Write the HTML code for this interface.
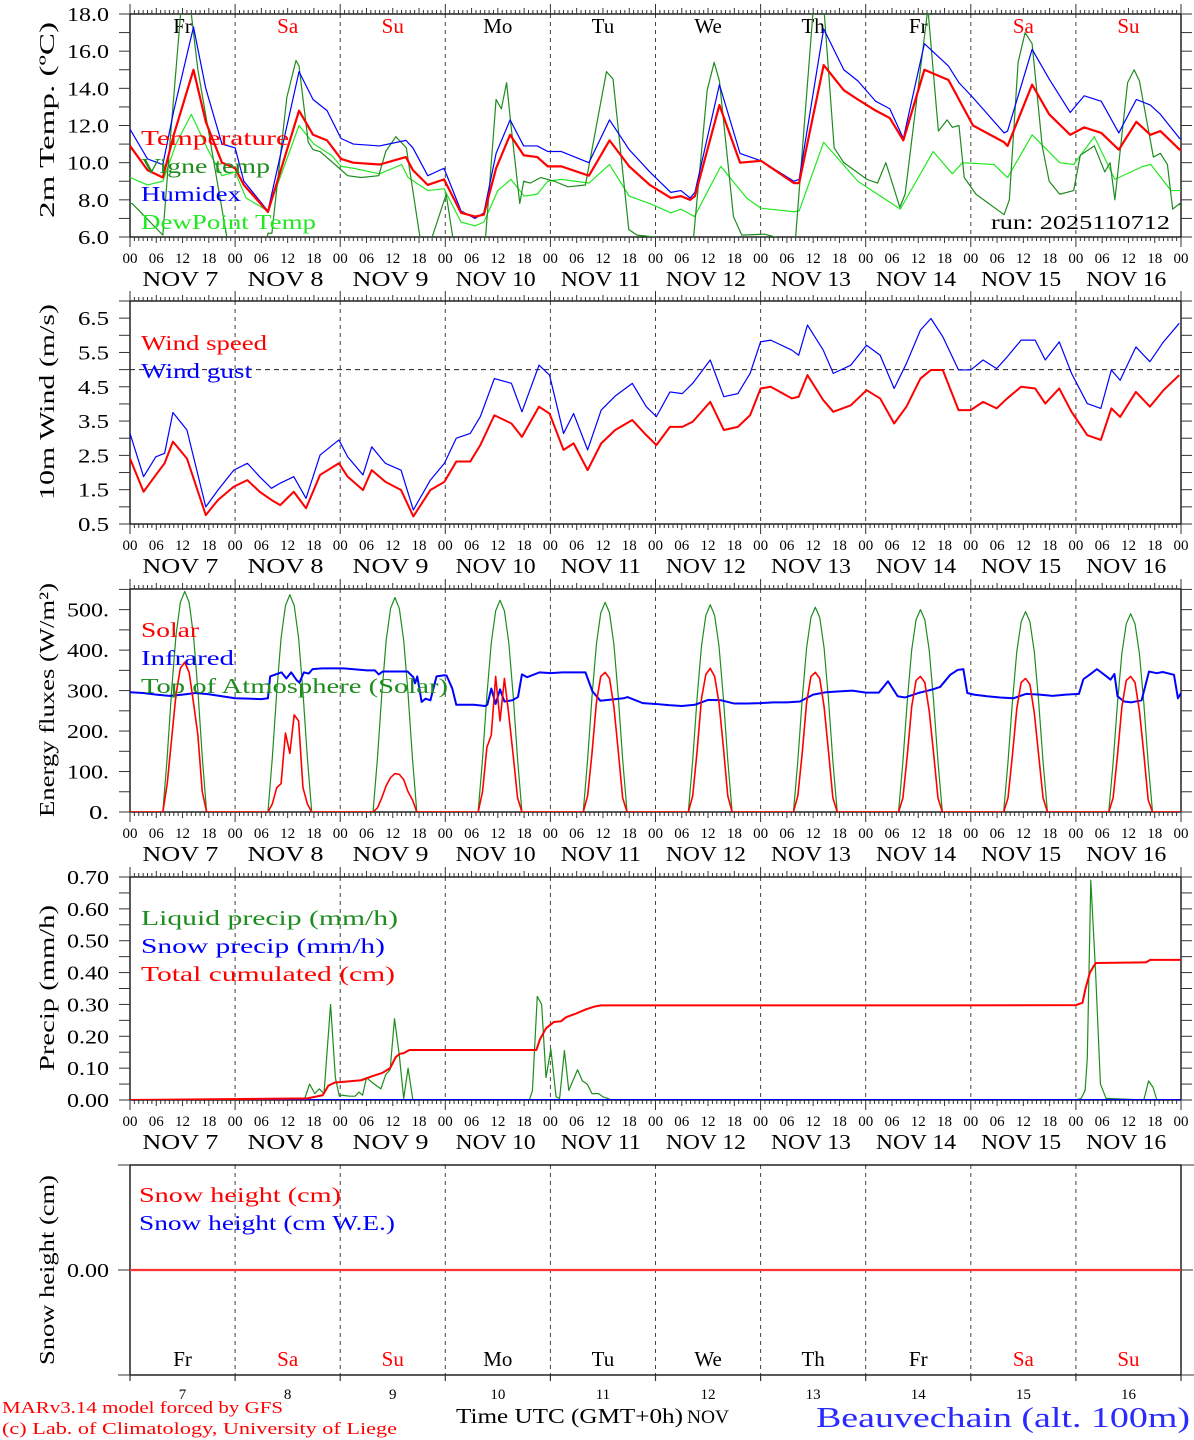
<!DOCTYPE html>
<html><head><meta charset="utf-8"><title>MAR forecast Beauvechain</title>
<style>html,body{margin:0;padding:0;background:#fff;}svg{display:block;}text{font-family:"Liberation Serif","DejaVu Serif",serif;}</style>
</head><body>
<svg id="chart" xmlns="http://www.w3.org/2000/svg" width="1194" height="1440" viewBox="0 0 1194 1440">
<rect x="0" y="0" width="1194" height="1440" fill="#fff"/>
</svg>
<script>
// ---------- data ----------
const dayNames = ["Fr","Sa","Su","Mo","Tu","We","Th","Fr","Sa","Su"];
const dayNums = ["7","8","9","10","11","12","13","14","15","16"];
// Temperature panel (hours since Nov 7 00 UTC)
const tempHours = [0,4,7.5,10,14.5,17.3,21,24,26,31.5,38.6,41.8,45,48.2,51,57,63,64.6,68,71.7,75.6,78.8,80.8,83.6,86.8,89.9,93,95.4,98.5,104.8,109.5,114,118.7,123.5,125.8,127.9,129,134.6,139.3,144.1,151.6,152.8,158.4,163,166.2,170.3,173.5,176.6,181.4,186.9,189.3,192.5,199.6,200.4,206,209.9,214.7,217.9,221.8,225.8,229.8,233,235.3,239.7,240];
const tempValues = [10.9,9.6,9.2,11.5,15.0,12.2,10.0,9.7,8.8,7.35,12.8,11.5,11.2,10.2,10.0,9.9,10.3,9.6,8.8,9.1,7.3,7.1,7.2,9.7,11.5,10.4,10.3,9.8,9.8,9.3,11.2,9.8,8.8,8.1,8.2,8.0,8.2,13.1,10.0,10.1,8.9,8.9,15.25,13.9,13.4,12.8,12.4,11.2,15.0,14.45,13.4,12.0,11.1,10.9,14.2,12.6,11.5,11.9,11.6,10.7,12.2,11.5,11.7,10.7,10.7];
const humidexValues = [11.8,10.2,9.9,12.8,17.3,14.0,11.0,10.8,9.0,7.4,14.9,13.4,12.8,11.3,11.0,10.9,11.2,10.8,9.3,9.7,7.4,7.0,7.3,10.5,12.3,10.9,10.9,10.6,10.6,10.0,12.3,10.7,9.5,8.4,8.5,8.1,8.4,14.2,10.5,10.1,9.0,9.1,17.2,15.0,14.4,13.3,12.9,11.3,16.4,15.2,14.3,13.5,11.6,11.7,16.1,14.5,12.7,13.6,13.3,11.6,13.4,13.1,12.6,11.3,11.3];
const dewHours = [0,4,7.5,10.5,14,18,21,24,26.5,31.5,38.6,42,46,48.2,51,57,62,63.5,68,71.7,75.6,78.8,80.8,84,87,90,93,95.4,98.5,104.8,109.5,114,118.7,123.5,125.8,128.9,134.9,140.8,144.1,151.6,152.8,158.4,166.2,175.9,183.4,187.8,190.1,197.3,200.4,206,212.3,215.5,220.2,224.9,231.3,233.1,237.7,240];
const dewValues = [9.2,8.8,9.0,11.0,12.6,10.6,9.3,9.5,8.1,7.4,12.0,11.0,10.4,9.8,9.7,9.4,9.9,9.2,8.5,8.6,6.8,6.6,6.8,8.5,9.1,8.2,8.3,9.0,9.1,8.9,9.9,8.2,7.8,7.3,7.5,7.1,9.8,8.1,7.55,7.36,7.4,11.1,9.0,7.5,10.6,9.4,10.0,9.9,9.2,11.5,10.0,9.9,11.4,9.1,9.8,9.9,8.5,8.5];
const vigneHours = [0,0.5,7.5,9.1,11.9,13.9,15.5,22.1,23,30.5,31.5,32.4,35.8,37.9,38.6,40.7,41.8,43.4,47.3,49.7,52.8,56.8,58.4,60.7,63.1,66.2,67,68.5,69,72.2,73.7,74.5,80.5,81.2,83.6,84.8,86,87,89,89.9,91.4,93.8,96.9,100,104,108.8,110.3,113.9,115.8,119.7,121,128,128.7,131.8,133.4,134.6,137.8,139.7,144.9,147.3,151,152,156,158.4,160.8,163,168.3,170.7,172.6,175.8,177,182.2,184.6,186.6,187.8,189.3,190.5,193.2,199.6,200.8,202.8,204.4,206,208.3,209.9,212.3,215.5,217,220.2,222.6,223.8,224.9,227.8,229.3,230.5,233.7,235.3,236.9,238.1,239.7,240];
const vigneValues = [7.8,7.8,6.1,11,19,18.2,15,6.0,5.0,5.0,6.2,6.2,13.5,15.5,15.2,11.1,10.7,10.6,9.8,9.3,9.2,9.3,10.6,11.4,10.8,6.0,4.0,4.0,6.0,8.3,6.0,4.0,4.0,6.0,13.4,12.9,14.3,12.0,7.8,9.0,8.9,9.2,9.0,8.7,8.8,14.9,14.5,6.4,6.1,6.0,4.5,4.5,6.0,13.9,15.4,14.4,7.1,6.1,6.15,6.0,5.5,6.0,18.2,18.5,10.8,10.0,9.1,8.9,10.0,7.6,8.3,18.3,11.7,12.3,11.9,12.0,9.2,8.3,7.2,8.0,15.4,17.0,16.4,10.9,9.0,8.3,8.5,10.4,10.9,9.5,10.0,8.0,14.3,15.0,14.4,10.3,10.5,9.9,7.5,7.8,7.6];
// Wind panel
const windHours = [0,3.1,5.9,7.9,9.8,13,17.3,20.1,23.7,26.8,29.6,32.3,34.3,37.4,40.2,43.4,47.7,49.7,53.2,55.2,58.3,61.9,64.7,68.6,71.8,74.5,77.7,80,83.2,87.1,89.5,93.4,95.8,99,101.3,104.5,107.6,110.8,114.7,117.9,120.2,123.3,126.1,128.5,132.5,135.6,138.8,141.6,144,146.3,151.1,152.7,154.7,158.3,160.6,164.6,168.2,171.3,174.5,177.3,180.5,182.9,185.6,189.2,192,194.8,197.9,200.3,203.5,206.7,209,212.2,215,218.6,221.7,224.1,226.1,229.7,232.9,236,239.6];
const windSpeed = [2.41,1.44,1.93,2.27,2.9,2.41,0.76,1.2,1.59,1.78,1.44,1.2,1.05,1.44,0.96,1.93,2.27,1.88,1.49,2.07,1.73,1.49,0.72,1.49,1.73,2.32,2.32,2.8,3.67,3.43,3.04,3.92,3.72,2.66,2.85,2.07,2.85,3.24,3.53,3.09,2.8,3.33,3.33,3.48,4.06,3.24,3.33,3.67,4.45,4.5,4.16,4.21,4.84,4.11,3.77,3.96,4.4,4.16,3.43,3.92,4.74,4.99,4.99,3.82,3.82,4.06,3.87,4.16,4.5,4.45,4.01,4.45,3.77,3.09,2.95,3.87,3.62,4.35,3.92,4.4,4.84];
const windGust = [3.14,1.88,2.46,2.56,3.75,3.24,1.0,1.49,2.07,2.27,1.88,1.54,1.69,1.88,1.25,2.51,2.95,2.46,1.93,2.75,2.27,2.07,0.91,1.78,2.27,3.0,3.14,3.63,4.74,4.6,3.77,5.13,4.84,3.14,3.72,2.66,3.82,4.23,4.6,3.92,3.63,4.35,4.3,4.6,5.28,4.21,4.3,4.89,5.81,5.86,5.57,5.42,6.3,5.57,4.89,5.13,5.71,5.42,4.45,5.18,6.15,6.49,5.96,4.99,4.99,5.28,5.03,5.37,5.86,5.86,5.28,5.81,4.89,4.01,3.87,4.99,4.69,5.66,5.23,5.81,6.35];
const gustThreshold = [5.0];
// Energy panel: daylight hours 7.5..17.5 each day
const sunHours = [7.5,8.5,9.5,10.5,11.5,12.5,13.5,14.5,15.5,16.5,17.5];
const toaDaily = [
[0,136,300,436,518,545,518,436,300,136,0],
[0,134,295,430,510,537,510,430,295,134,0],
[0,132,291,424,503,530,503,424,291,132,0],
[0,131,288,418,497,523,497,418,288,131,0],
[0,130,285,414,492,518,492,414,285,130,0],
[0,128,282,410,486,512,486,410,282,128,0],
[0,126,278,405,481,506,481,405,278,126,0],
[0,125,275,400,475,500,475,400,275,125,0],
[0,124,272,396,470,495,470,396,272,124,0],
[0,122,270,392,465,490,465,392,270,122,0]];
const solarDaily = [
[0,70,180,290,355,370,345,270,190,50,0],
[0,20,60,70,195,145,240,225,60,20,0],
[0,10,35,65,85,95,93,80,50,30,0],
[0,50,160,190,335,225,330,240,140,35,0],
[0,40,145,270,335,345,330,260,150,35,0],
[0,40,150,280,340,355,335,270,160,40,0],
[0,40,145,270,335,345,330,260,150,35,0],
[0,35,140,260,325,335,320,250,145,35,0],
[0,35,140,255,320,330,315,245,140,35,0],
[0,35,140,260,325,335,320,250,145,30,0]];
const irHours = [0,3,6,9,12,15,18,21,24,27,30,31.5,32,34.6,35.7,36.8,38.1,38.7,39.7,40.8,41.7,43.9,48.8,54.1,55.9,56.8,57.7,63.4,64.7,65.1,65.6,66.6,67.5,68.6,70,71.8,72.3,73.6,74.5,78.5,81.1,81.6,82.5,83.5,84.5,85.5,87.3,88.6,89.5,90.7,93.5,96.1,98.7,104,105.6,107.4,112.7,113.6,117.1,120,123,126,129,132,135,138,141,144,147,150,153,156,159,162,165,168,171,173.1,175.3,177,180,183,185,187.3,189,190.3,191.2,192.7,195.7,198.7,201.7,204.7,207.7,210.7,213.7,216.7,217.7,219.6,220.8,223,223.9,224.8,225.5,227,228.7,231,232.7,234.5,235.8,238.4,239.3,240];
const irValues = [296,294,290,287,290,294,291,286,281,280,279,281,335,345,330,345,325,320,345,342,353,355,355,350,350,340,347,347,333,318,335,272,280,276,335,338,337,305,265,265,262,265,305,267,303,273,276,284,340,333,345,343,345,345,298,275,281,284,269,267,264,262,265,277,276,268,268,269,271,271,273,290,296,298,300,295,295,323,286,283,294,302,309,339,351,353,294,290,286,283,281,292,290,287,290,292,328,343,353,335,327,341,286,273,271,276,347,343,346,339,281,294];
// Precip panel
const precipHours = [0,39.8,41,42.2,43.2,44.3,45.8,46.9,47.8,48.5,50.1,51.4,52.3,53.1,54,55.3,57.3,58.4,59.4,60.4,61.5,62.5,63.5,64.6,91.2,91.9,93,94,95,96.1,97.3,98.1,99.2,100.2,102.2,103.3,104.4,105.5,107,108,110,216,217.2,218.1,218.6,219.4,220.5,221.6,222.9,231.5,232.6,233.6,234.5,240];
const liquidPrecip = [0,0,0.05,0.02,0.035,0.02,0.3,0.07,0.012,0.015,0.012,0.012,0.025,0.015,0.07,0.055,0.035,0.08,0.095,0.255,0.14,0.005,0.1,0,0,0.03,0.325,0.3,0.07,0.16,0.01,0.005,0.155,0.03,0.095,0.06,0.05,0.02,0.02,0.01,0,0,0.005,0.03,0.13,0.69,0.4,0.05,0.005,0,0.06,0.04,0,0];
const cumHours = [0,40.5,44,45.3,46.8,48.6,52.8,55.4,57.6,59.4,60.7,61.6,62.5,63.8,92.8,93.6,95,96.8,98.4,99.6,101.6,104.2,106,107.5,186,216,217.5,218.2,219.2,220.5,232,233,240];
const cumValues = [0,0.005,0.015,0.045,0.055,0.057,0.062,0.075,0.085,0.1,0.135,0.145,0.147,0.157,0.157,0.19,0.225,0.245,0.247,0.26,0.27,0.285,0.293,0.297,0.297,0.298,0.305,0.35,0.4,0.43,0.432,0.44,0.44];
const snowPrecipHours = [0,240];
const snowPrecipValues = [0,0];
// Snow panel
const snowHours = [0,240];
const snowHeight = [0,0];
const snowHeightWE = [0,0];

// ---------- drawing ----------
const NS = 'http://www.w3.org/2000/svg';
const svg = document.getElementById('chart');
const X0 = 130, X1 = 1181, HRS = 240;
function xh(h){ return X0 + (X1 - X0) * h / HRS; }
function add(parent, tag, attrs, name, inter){
  const el = document.createElementNS(NS, tag);
  for (const k in attrs) el.setAttribute(k, attrs[k]);
  
  
  parent.appendChild(el);
  return el;
}
function txt(parent, x, y, s, size, color, anchor, name, tl){
  const a = {x:x, y:y, 'font-size':size, fill:color, 'text-anchor':anchor||'start'};
  if (tl) { a.textLength = tl; a.lengthAdjust = 'spacingAndGlyphs'; }
  const t = add(parent, 'text', a, name, false);
  t.textContent = s;
  return t;
}
const panels = [
  {top:14, bot:237, min:6, max:18, labels:[6,8,10,12,14,16,18], fmt:v=>v.toFixed(1), minor:1, title:'2m Temp. (ºC)', tcy:120, tl:196},
  {top:301, bot:524, min:0.5, max:7, labels:[0.5,1.5,2.5,3.5,4.5,5.5,6.5], fmt:v=>v.toFixed(1), minor:0.5, title:'10m Wind (m/s)', tcy:402, tl:196},
  {top:589, bot:812, min:0, max:551, labels:[0,100,200,300,400,500], fmt:v=>v+'.', minor:50, title:'Energy fluxes (W/m²)', tcy:700, tl:234},
  {top:877, bot:1100, min:0, max:0.7, labels:[0,0.1,0.2,0.3,0.4,0.5,0.6,0.7], fmt:v=>v.toFixed(2), minor:0.05, title:'Precip (mm/h)', tcy:988, tl:166},
  {top:1165, bot:1375, min:-1, max:1, labels:[0], fmt:v=>v.toFixed(2), minor:0, title:'Snow height (cm)', tcy:1270, tl:190}
];
function yv(p, v){ return p.bot - (v - p.min) / (p.max - p.min) * (p.bot - p.top); }
const defs = add(svg, 'defs', {}, 'defs', false);

panels.forEach((p, pi) => {
  const g = add(svg, 'g', {}, 'panel-' + (pi+1), false);
  const cp = add(defs, 'clipPath', {id:'clip'+pi}, 'clip-panel-' + (pi+1), false);
  add(cp, 'rect', {x:X0, y:p.top, width:X1-X0, height:p.bot-p.top}, 'clip-rect', false);
  // day dashed lines
  for (let d = 1; d < 10; d++) {
    const x = xh(d*24);
    add(g, 'line', {x1:x, y1:p.top, x2:x, y2:p.bot, stroke:'#444', 'stroke-width':1, 'stroke-dasharray':'4,4'}, 'day-separator', false);
  }
  // frame
  add(g, 'rect', {x:X0, y:p.top, width:X1-X0, height:p.bot-p.top, fill:'none', stroke:'#000', 'stroke-width':1.3}, 'plot-frame', false);
  // time ticks
  if (pi < 4) {
    for (let h = 0; h <= 240; h++) {
      const x = xh(h);
      const len = (h % 24 === 0) ? 10 : (h % 6 === 0 ? 6 : 4);
      add(g, 'line', {x1:x, y1:p.top, x2:x, y2:p.top-len, stroke:'#333', 'stroke-width':1}, 'top-tick', false);
      add(g, 'line', {x1:x, y1:p.bot, x2:x, y2:p.bot+len, stroke:'#333', 'stroke-width':1}, 'bottom-tick', false);
    }
    for (let d = 0; d <= 10; d++) {
      ['00','06','12','18'].forEach((s, k) => {
        if (d === 10 && k > 0) return;
        txt(g, xh(d*24 + k*6), p.bot+26, s, 15, '#000', 'middle', 'x-tick-label');
      });
      if (d < 10) {
        const lab = dayNums[d].length === 1 ? 'NOV  ' + dayNums[d] : 'NOV ' + dayNums[d];
        txt(g, xh(d*24+11.5), p.bot+49, lab, 21, '#000', 'middle', 'x-date-label', dayNums[d].length === 1 ? 76 : 80);
      }
    }
    // y minor ticks
    for (let v = p.min; v <= p.max + 1e-9; v += p.minor) {
      const y = yv(p, v);
      if (y < p.top - 0.5) break;
      add(g, 'line', {x1:X0-11, y1:y, x2:X0, y2:y, stroke:'#333', 'stroke-width':1}, 'y-tick-left', false);
      add(g, 'line', {x1:X1, y1:y, x2:X1+11, y2:y, stroke:'#333', 'stroke-width':1}, 'y-tick-right', false);
    }
  } else {
    for (let d = 0; d <= 10; d++) {
      const x = xh(d*24);
      add(g, 'line', {x1:x, y1:p.bot, x2:x, y2:p.bot+6, stroke:'#333', 'stroke-width':1.2}, 'day-tick', false);
    }
    const y0 = yv(p, 0);
    add(g, 'line', {x1:X0-12, y1:y0, x2:X0, y2:y0, stroke:'#333', 'stroke-width':1}, 'y-tick-left', false);
    add(g, 'line', {x1:X1, y1:y0, x2:X1+12, y2:y0, stroke:'#333', 'stroke-width':1}, 'y-tick-right', false);
    add(g, 'line', {x1:118, y1:p.top, x2:X0, y2:p.top, stroke:'#333', 'stroke-width':1}, 'frame-extension', false);
    add(g, 'line', {x1:118, y1:p.bot, x2:X0, y2:p.bot, stroke:'#333', 'stroke-width':1}, 'frame-extension', false);
    add(g, 'line', {x1:X1, y1:p.top, x2:1194, y2:p.top, stroke:'#333', 'stroke-width':1}, 'frame-extension', false);
    add(g, 'line', {x1:X1, y1:p.bot, x2:1194, y2:p.bot, stroke:'#333', 'stroke-width':1}, 'frame-extension', false);
  }
  // y labels
  p.labels.forEach(v => {
    const s = p.fmt(v);
    txt(g, 109, yv(p, v) + 7, s, 20, '#000', 'end', 'y-tick-label', Math.max(18, 11*s.length - 2));
  });
  // y title
  const t = txt(g, 0, 0, p.title, 21, '#000', 'middle', 'y-axis-title', p.tl);
  t.setAttribute('transform', 'translate(54,' + p.tcy + ') rotate(-90)');
});

// day names
for (let d = 0; d < 10; d++) {
  const col = (dayNames[d] === 'Sa' || dayNames[d] === 'Su') ? '#ff0000' : '#000';
  txt(svg, xh(d*24+12), 33, dayNames[d], 21, col, 'middle', 'day-name-top');
  txt(svg, xh(d*24+12), 1366, dayNames[d], 21, col, 'middle', 'day-name-bottom');
  txt(svg, xh(d*24+12), 1399, dayNums[d], 15, '#000', 'middle', 'day-number');
}

function series(pi, hours, vals, color, w, name){
  const p = panels[pi];
  const pts = hours.map((h, i) => xh(h).toFixed(2) + ',' + yv(p, vals[i]).toFixed(2)).join(' ');
  return add(svg, 'polyline', {points:pts, fill:'none', stroke:color, 'stroke-width':w, 'stroke-linejoin':'round', 'clip-path':'url(#clip'+pi+')'}, name, false);
}
function dailySeries(pi, daily, color, w, name){
  const hours = [], vals = [];
  hours.push(0); vals.push(0);
  daily.forEach((arr, d) => { arr.forEach((v, j) => { hours.push(d*24 + sunHours[j]); vals.push(v); }); });
  hours.push(240); vals.push(0);
  return series(pi, hours, vals, color, w, name);
}

// Panel 1
series(0, dewHours, dewValues, '#22e822', 1.2, 'dewpoint-line');
series(0, vigneHours, vigneValues, '#1e8c1e', 1.2, 'vigne-temp-line');
series(0, tempHours, humidexValues, '#0000ff', 1.2, 'humidex-line');
series(0, tempHours, tempValues, '#ff0000', 2.2, 'temperature-line');
// Panel 2
add(svg, 'line', {x1:X0, y1:yv(panels[1], gustThreshold[0]), x2:X1, y2:yv(panels[1], gustThreshold[0]), stroke:'#222', 'stroke-width':1, 'stroke-dasharray':'5,4'}, 'gust-threshold-line', false);
series(1, windHours, windGust, '#0000ff', 1.2, 'wind-gust-line');
series(1, windHours, windSpeed, '#ff0000', 2, 'wind-speed-line');
// Panel 3
dailySeries(2, toaDaily, '#1e8c1e', 1.2, 'toa-solar-line');
series(2, irHours, irValues, '#0000ff', 2, 'infrared-line');
dailySeries(2, solarDaily, '#ff0000', 1.6, 'solar-line');
// Panel 4
series(3, precipHours, liquidPrecip, '#1e8c1e', 1.2, 'liquid-precip-line');
series(3, snowPrecipHours, snowPrecipValues, '#0000ff', 2, 'snow-precip-line');
series(3, cumHours, cumValues, '#ff0000', 2, 'cumulated-precip-line');
// Panel 5
series(4, snowHours, snowHeightWE, '#0000ff', 2, 'snow-height-we-line');
series(4, snowHours, snowHeight, '#ff3333', 2.2, 'snow-height-line');

// legends
txt(svg, 141, 145, 'Temperature', 21, '#ff0000', 'start', 'legend-temperature', 148);
txt(svg, 141, 173, 'Vigne temp', 21, '#1e8c1e', 'start', 'legend-vigne-temp', 129);
txt(svg, 141, 201, 'Humidex', 21, '#0000ff', 'start', 'legend-humidex', 100);
txt(svg, 141, 229, 'DewPoint Temp', 21, '#22e822', 'start', 'legend-dewpoint', 175);
txt(svg, 991, 229, 'run: 2025110712', 20, '#000', 'start', 'run-label', 179);
txt(svg, 141, 350, 'Wind speed', 21, '#ff0000', 'start', 'legend-wind-speed', 126);
txt(svg, 141, 378, 'Wind gust', 21, '#0000ff', 'start', 'legend-wind-gust', 111);
txt(svg, 141, 637, 'Solar', 21, '#ff0000', 'start', 'legend-solar', 58);
txt(svg, 141, 665, 'Infrared', 21, '#0000ff', 'start', 'legend-infrared', 93);
txt(svg, 141, 693, 'Top of Atmosphere (Solar)', 21, '#1e8c1e', 'start', 'legend-toa', 307);
txt(svg, 141, 925, 'Liquid precip (mm/h)', 21, '#1e8c1e', 'start', 'legend-liquid-precip', 257);
txt(svg, 141, 953, 'Snow precip (mm/h)', 21, '#0000ff', 'start', 'legend-snow-precip', 244);
txt(svg, 141, 981, 'Total cumulated (cm)', 21, '#ff0000', 'start', 'legend-total-cumulated', 254);
txt(svg, 139, 1202, 'Snow height (cm)', 21, '#ff0000', 'start', 'legend-snow-height', 202);
txt(svg, 139, 1230, 'Snow height (cm W.E.)', 21, '#0000ff', 'start', 'legend-snow-height-we', 256);
// footer
txt(svg, 2, 1413, 'MARv3.14 model forced by GFS', 17, '#ff0000', 'start', 'model-credit', 281);
txt(svg, 2, 1434, '(c) Lab. of Climatology, University of Liege', 17, '#ff0000', 'start', 'lab-credit', 395);
txt(svg, 456, 1423, 'Time UTC (GMT+0h)', 21, '#000', 'start', 'x-axis-title', 227);
txt(svg, 687, 1423, 'NOV', 19, '#000', 'start', 'x-axis-month', 42);
txt(svg, 816, 1427, 'Beauvechain (alt. 100m)', 29, '#2a2aff', 'start', 'station-title', 374);
</script>
</body></html>
